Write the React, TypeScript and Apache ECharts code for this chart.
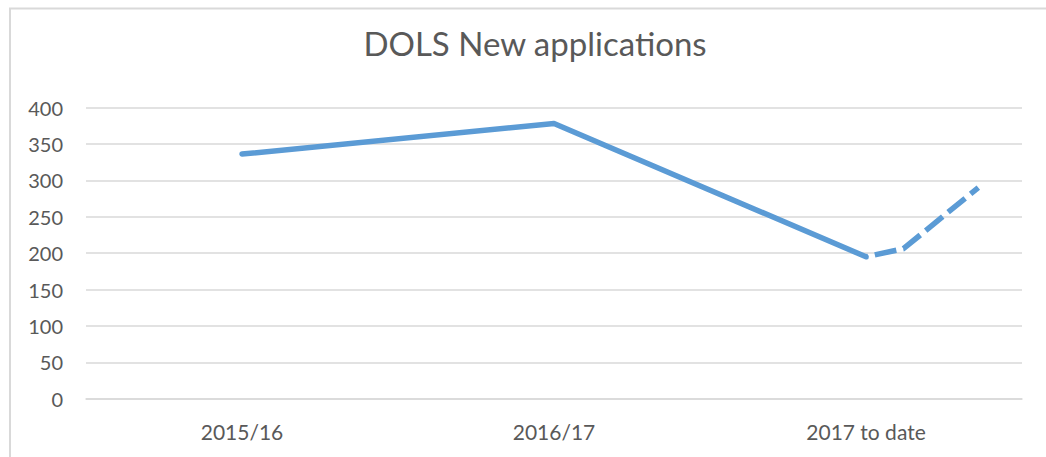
import React, { useEffect, useRef } from "react";
import * as echarts from "echarts";

const categories = ["2015/16", "2016/17", "2017 to date"];
const applications = [336, 378, 195];
// projected/dashed continuation: [position along category axis (0..3), value]
const projectionX = [2.5, 2.62, 2.86];
const projectionY = [195, 206, 290];
const yTicks = { min: 0, max: 400, interval: 50 };

export default function App() {
  const ref = useRef<HTMLDivElement>(null);
  useEffect(() => {
    if (!ref.current) return;
    const chart = echarts.init(ref.current, null, { renderer: "svg" });
    const font = "Lato, 'Open Sans', sans-serif";
    chart.setOption({
      animation: false,
      backgroundColor: "#ffffff",
      title: {
        text: "DOLS New applications",
        left: 530,
        top: 21,
        textAlign: "center",
        textStyle: { fontFamily: font, fontSize: 33, fontWeight: "normal", color: "#595959" },
      },
      graphic: [
        { type: "line", shape: { x1: 9, y1: 8.5, x2: 1046, y2: 8.5 }, style: { stroke: "#D9D9D9", lineWidth: 2 } },
        { type: "line", shape: { x1: 10, y1: 8, x2: 10, y2: 457 }, style: { stroke: "#D9D9D9", lineWidth: 2 } },
      ],
      grid: { left: 86, right: 24, top: 107.5, bottom: 58.3, containLabel: false },
      xAxis: [
        {
          type: "category",
          data: categories,
          boundaryGap: true,
          axisLine: { show: true, lineStyle: { color: "#D9D9D9", width: 1.5 } },
          axisTick: { show: false },
          axisLabel: { color: "#595959", fontFamily: font, fontSize: 21, margin: 22 },
        },
        { type: "value", min: 0, max: 3, show: false },
      ],
      yAxis: {
        type: "value",
        min: yTicks.min,
        max: yTicks.max,
        interval: yTicks.interval,
        axisLine: { show: false },
        axisTick: { show: false },
        splitLine: { lineStyle: { color: "#D9D9D9", width: 1.5 } },
        axisLabel: { color: "#595959", fontFamily: font, fontSize: 20, margin: 23 },
      },
      series: [
        {
          type: "line",
          data: applications,
          xAxisIndex: 0,
          symbol: "none",
          lineStyle: { color: "#5B9BD5", width: 5.5, cap: "round", join: "round" },
        },
        {
          type: "line",
          xAxisIndex: 1,
          data: projectionX.map((x, i) => [x, projectionY[i]]),
          symbol: "none",
          lineStyle: { color: "#5B9BD5", width: 5.5, type: [22, 7], dashOffset: -9, cap: "butt" },
        },
      ],
    });
    return () => chart.dispose();
  }, []);
  return <div ref={ref} style={{ position: "absolute", left: 0, top: 0, width: 1046, height: 457 }} />;
}
